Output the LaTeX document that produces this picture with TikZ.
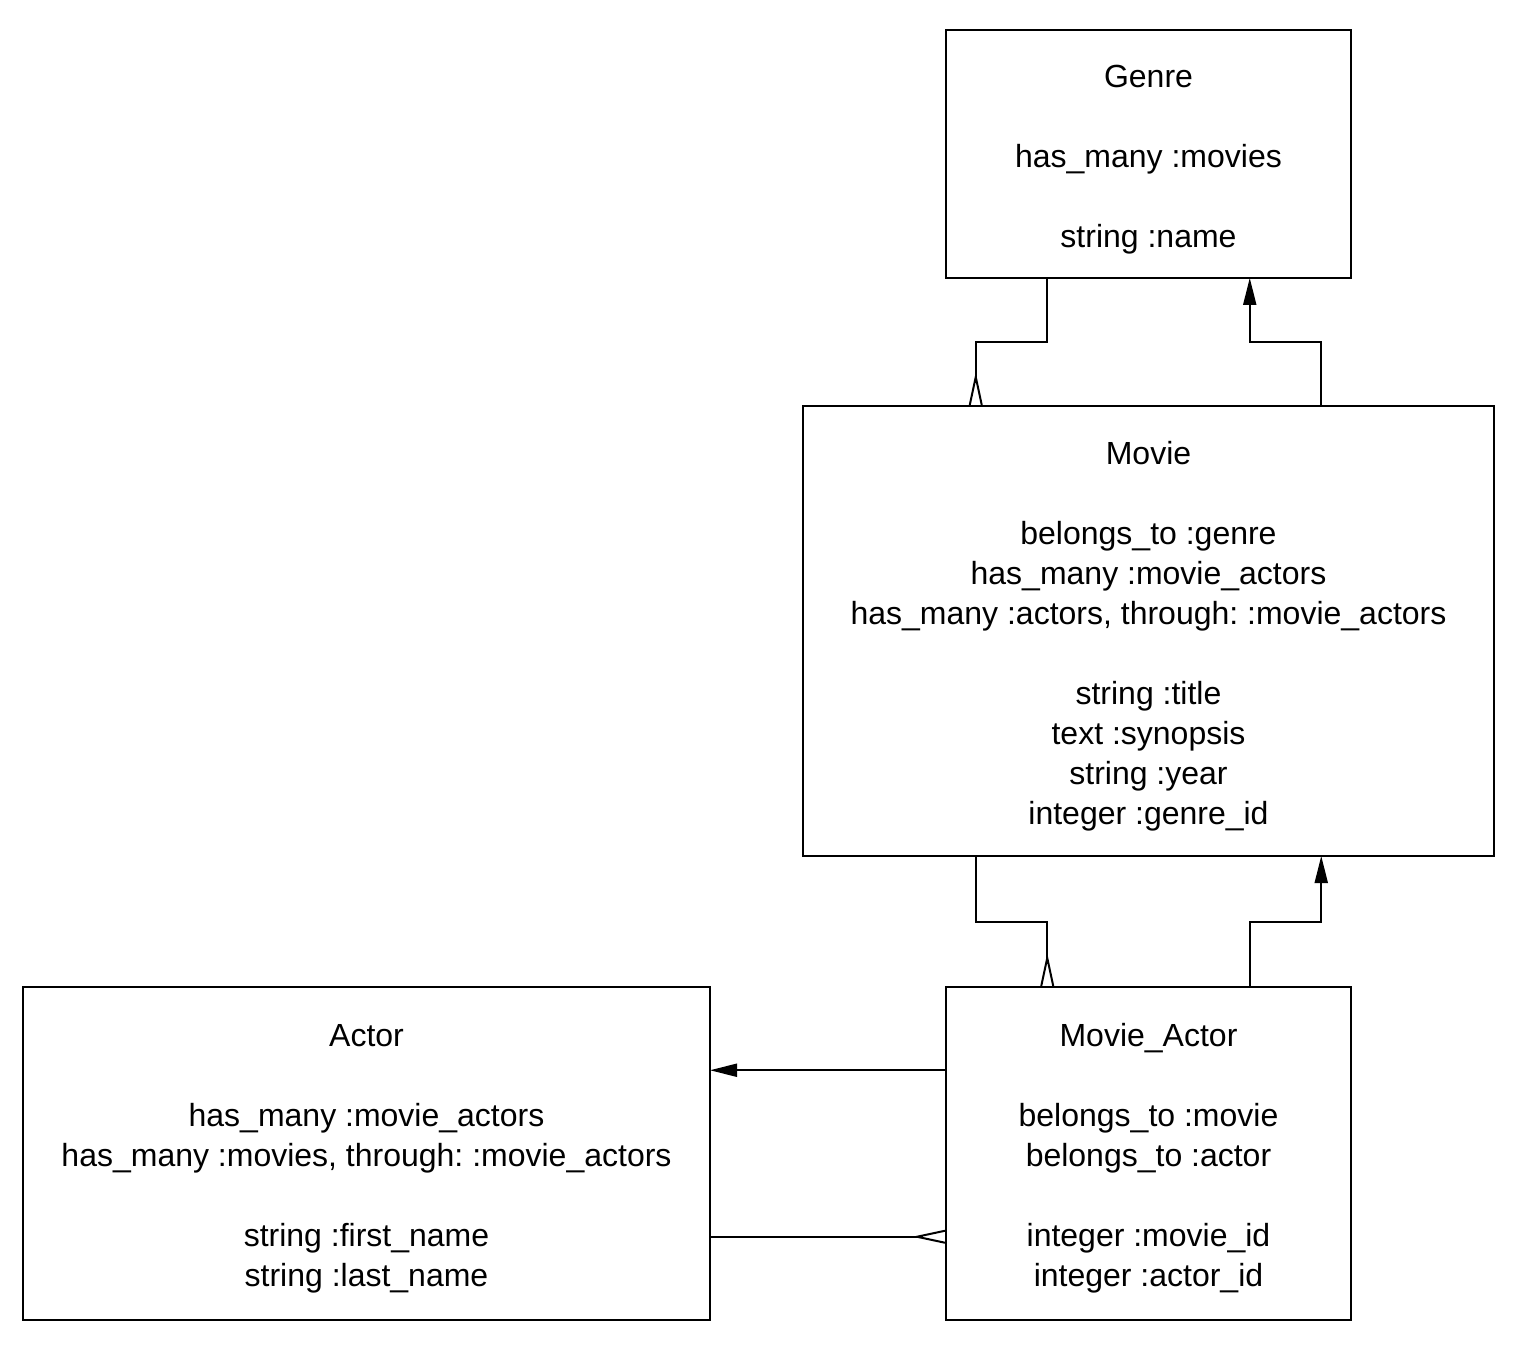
\documentclass[tikz,border=0pt]{standalone}
\usepackage{fontspec}
\setmainfont{Liberation Sans}
\usetikzlibrary{positioning}
\usetikzlibrary{calc}
\usetikzlibrary{arrows.meta}

\tikzset{
	model/.style={draw,line width=1pt,align=center,inner sep=0pt,outer sep=0pt,font=\fontsize{16}{20}\selectfont\frenchspacing},
	link/.style={line width=1pt},
	one/.style={link,-{Triangle[length=13.5pt,width=6.5pt]}},
	many/.style={link,-{Straight Barb[reversed,length=14pt,width=6pt,line width=1pt]}},
}
\newcommand{\topgap}{\rule{0pt}{16.5pt}}

\begin{document}
\begin{tikzpicture}[x=0.5pt,y=-0.5pt]
	\useasboundingbox (0,0) rectangle (1522,1358);
	
	\node[model,minimum width=202.5pt,minimum height=124pt] (genre) at (1148.5,154)
		{\topgap Genre\\[20pt] has\_many :movies\\[20pt] string :name};
	\node[model,minimum width=345.5pt,minimum height=225pt] (movie) at (1148.5,631)
		{\topgap Movie\\[20pt] belongs\_to :genre\\ has\_many :movie\_actors\\ has\_many :actors, through: :movie\_actors\\[20pt]
		string :title\\ text :synopsis\\ string :year\\ integer :genre\_id};
	\node[model,minimum width=343.5pt,minimum height=166.5pt] (actor) at (366.5,1153.5)
		{\topgap Actor\\[20pt] has\_many :movie\_actors\\ has\_many :movies, through: :movie\_actors\\[20pt]
		string :first\_name\\ string :last\_name};
	\node[model,minimum width=202.5pt,minimum height=166.5pt] (movie actor) at (1148.5,1153.5)
		{\topgap Movie\_Actor\\[20pt] belongs\_to :movie\\ belongs\_to :actor\\[20pt] integer :movie\_id\\ integer :actor\_id};
	
	% Genre - Movie
	\coordinate (a) at ($(genre.south west)!0.25!(genre.south east)$);
	\coordinate (b) at ($(genre.south west)!0.75!(genre.south east)$);
	\coordinate (c) at ($(movie.north west)!0.25!(movie.north east)$);
	\coordinate (d) at ($(movie.north west)!0.75!(movie.north east)$);
	\draw[many] (a) |- ($(a)!0.5!(c)$) -| (c);
	\draw[one] (d) |- ($(d)!0.5!(b)$) -| (b);
	
	% Movie - Movie_Actor
	\coordinate (e) at ($(movie.south west)!0.25!(movie.south east)$);
	\coordinate (f) at ($(movie.south west)!0.75!(movie.south east)$);
	\coordinate (g) at ($(movie actor.north west)!0.25!(movie actor.north east)$);
	\coordinate (h) at ($(movie actor.north west)!0.75!(movie actor.north east)$);
	\draw[many] (e) |- ($(e)!0.5!(g)$) -| (g);
	\draw[one] (h) |- ($(h)!0.5!(f)$) -| (f);
	
	% Actor - Movie_Actor
	\coordinate (i) at ($(movie actor.north west)!0.25!(movie actor.south west)$);
	\coordinate (j) at ($(movie actor.north west)!0.75!(movie actor.south west)$);
	\draw[one] (i) -- (actor.east |- i);
	\draw[many] (actor.east |- j) -- (j);
\end{tikzpicture}
\end{document}
